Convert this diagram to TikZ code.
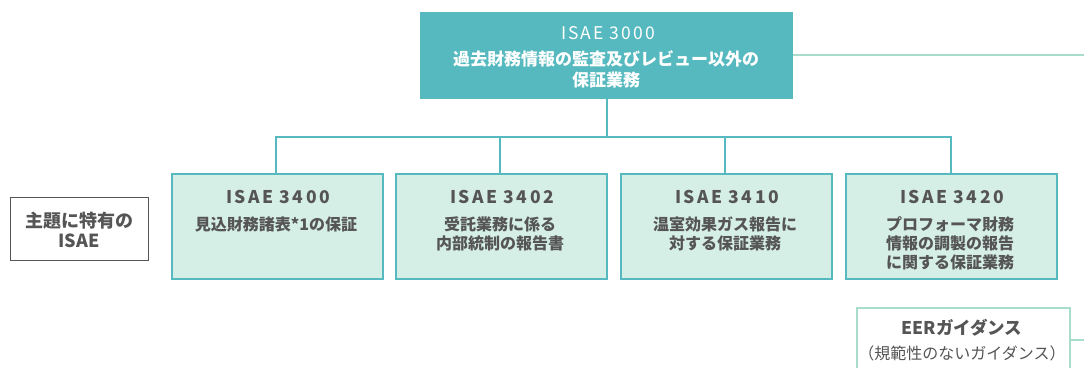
\documentclass[tikz,border=0pt]{standalone}
\usepackage{fontspec}
\setmainfont{Noto Sans CJK JP}
\definecolor{teal1}{HTML}{55B9BF}
\definecolor{mint}{HTML}{D5EEE6}
\definecolor{mintline}{HTML}{A8DDCB}
\definecolor{txt}{HTML}{555555}
\begin{document}
\begin{tikzpicture}[x=1pt,y=-1pt,
  box/.style={draw=teal1,line width=1.5pt,fill=mint,minimum width=211pt,minimum height=105pt,anchor=north west,inner sep=0pt},
  conn/.style={draw=teal1,line width=2pt},
  mline/.style={draw=mintline,line width=2.5pt},
  ttl/.style={text=txt,font=\bfseries\fontsize{17.5}{18}\selectfont\addfontfeature{LetterSpace=14},anchor=base},
  bod/.style={text=txt,font=\bfseries\fontsize{16}{19}\selectfont,align=center,anchor=base}]
\useasboundingbox (0,0) rectangle (1084,367);
% top
\node[fill=teal1,minimum width=373pt,minimum height=87pt,anchor=north west,inner sep=0pt] (top) at (420,12) {};
\node[text=white,font=\fontsize{17.5}{18}\selectfont\addfontfeature{LetterSpace=12},anchor=base] (topt) at (608,39) {ISAE 3000};
\node[text=white,font=\bfseries\fontsize{17}{21}\selectfont,align=center,anchor=base] (topb) at (606,86) {過去財務情報の監査及びレビュー以外の\\保証業務};
\coordinate (rt) at (1084,55);
\draw[mline] (top.east |- rt) -- (rt);
% boxes
\node[box] (b1) at (171,173) {};
\node[box] (b2) at (395,173) {};
\node[box] (b3) at (620,173) {};
\node[box] (b4) at (845,173) {};
\coordinate (hb) at (607,137);
\draw[conn] (top.south -| hb) -- (hb);
\draw[conn] (b1.north -| 276,0) |- (hb) -| (b4.north -| 951,0);
\draw[conn] (b2.north -| 500,0) -- (500,137);
\draw[conn] (b3.north -| 725,0) -- (725,137);
\node[ttl] at (278,203) {ISAE 3400};
\node[bod] at (276,230) {見込財務諸表*1の保証};
\node[ttl] at (502,203) {ISAE 3402};
\node[bod] at (500,249) {受託業務に係る\\内部統制の報告書};
\node[ttl] at (727,203) {ISAE 3410};
\node[bod] at (725,249) {温室効果ガス報告に\\対する保証業務};
\node[ttl] at (952,203) {ISAE 3420};
\node[bod] at (950,268) {プロフォーマ財務\\情報の調製の報告\\に関する保証業務};
% left
\node[draw=txt,line width=1.2pt,fill=white,minimum width=138pt,minimum height=63pt,anchor=north west,inner sep=0pt] (lft) at (10,197) {};
\node[text=txt,font=\bfseries\fontsize{18}{20.5}\selectfont,align=center,anchor=base] (lftt) at (79,247.5) {主題に特有の\\ISAE};
% EER
\node[draw=mintline,line width=1.5pt,fill=white,minimum width=213pt,minimum height=80pt,anchor=north west,inner sep=0pt] (eer) at (856,307) {};
\node[text=txt,font=\bfseries\fontsize{17.5}{16}\selectfont,anchor=base] at (962,334) {EERガイダンス};
\node[text=txt,font=\fontsize{16}{15}\selectfont,anchor=base] at (962,359) {（規範性のないガイダンス）};
\coordinate (re) at (1084,340);
\draw[mline] (eer.east |- re) -- (re);
\end{tikzpicture}
\end{document}
